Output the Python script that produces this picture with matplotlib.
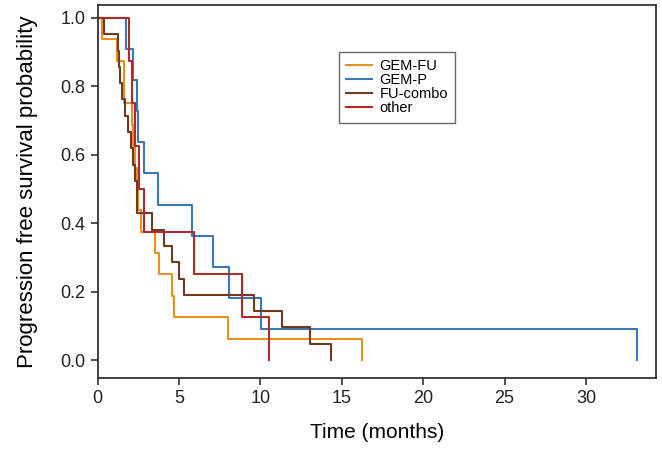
import numpy as np
import matplotlib
matplotlib.use("Agg")
import matplotlib.pyplot as plt

plt.rcParams['font.family'] = ['Liberation Sans', 'DejaVu Sans']

groups = ["GEM-FU", "GEM-P", "FU-combo", "other"]
colors = ["#E8901E", "#3A78B5", "#6E3B1E", "#B02A2A"]

# event times (months); each event drops survival by 1/n
t_gemfu = [0.26, 1.18, 1.60, 1.65, 2.10, 2.20, 2.30, 2.40, 2.50, 2.70,
           3.55, 3.80, 4.60, 4.70, 8.00, 16.25]
t_gemp = [1.73, 2.20, 2.40, 2.47, 2.88, 3.74, 5.79, 7.12, 8.08, 10.03, 33.1]
t_fucombo = [0.40, 1.24, 1.30, 1.38, 1.48, 1.69, 1.90, 2.06, 2.20, 2.30,
             2.40, 2.45, 3.37, 4.10, 4.56, 5.00, 5.34, 9.64, 11.36, 13.06, 14.35]
t_other = [1.96, 2.10, 2.30, 2.55, 2.85, 5.90, 8.86, 10.55]

all_times = [t_gemfu, t_gemp, t_fucombo, t_other]

xticks = [0, 5, 10, 15, 20, 25, 30]
yticks = [0.0, 0.2, 0.4, 0.6, 0.8, 1.0]

fig = plt.figure(figsize=(6.62, 4.49), dpi=100)
ax = fig.add_axes([0.1473, 0.1586, 0.8437, 0.8304])

for name, col, times in zip(groups, colors, all_times):
    n = len(times)
    tt = np.concatenate([[0.0], np.array(times)])
    ss = np.concatenate([[1.0], (n - np.arange(1, n + 1)) / n])
    ax.step(tt, ss, where='post', color=col, lw=1.5, label=name)

ax.set_xlim(0, 34.3)
ax.set_ylim(-0.052, 1.038)
ax.set_xticks(xticks)
ax.set_yticks(yticks)
ax.set_yticklabels([f"{v:.1f}" for v in yticks])
ax.tick_params(axis='both', direction='out', length=5, width=1.1,
               labelsize=13, colors='#222222')
for sp in ax.spines.values():
    sp.set_color('#333333')
    sp.set_linewidth(1.3)

ax.set_xlabel("Time (months)", fontsize=15, labelpad=12)
ax.set_ylabel("Progression free survival probability", fontsize=16, labelpad=16)

leg = ax.legend(loc='upper left', bbox_to_anchor=(0.432, 0.874), fontsize=10.5,
                frameon=True, fancybox=False, handlelength=1.8,
                handletextpad=0.5, labelspacing=0.0, borderpad=0.5,
                borderaxespad=0)
leg.get_frame().set_edgecolor('#444444')
leg.get_frame().set_linewidth(1.0)
for line in leg.get_lines():
    line.set_linewidth(1.5)

fig.savefig("out.png", dpi=100)
